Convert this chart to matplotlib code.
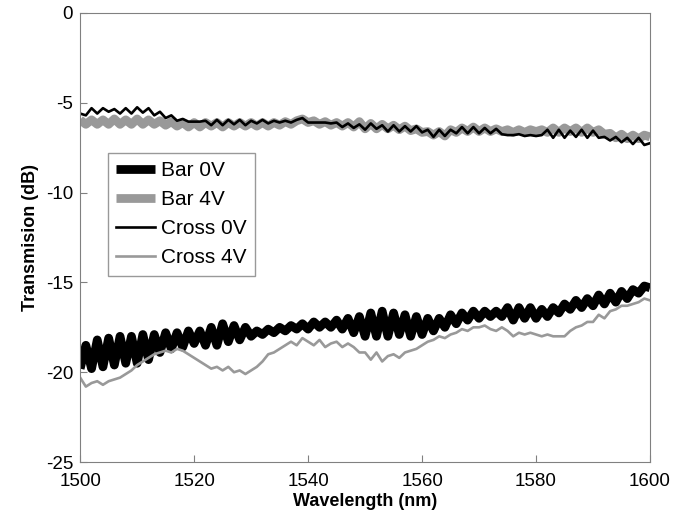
import matplotlib
matplotlib.use("Agg")
import matplotlib.pyplot as plt
import numpy as np

plt.rcParams['font.family'] = ['Liberation Sans', 'DejaVu Sans']
plt.rcParams['axes.unicode_minus'] = False

# wavelength grid, 1 nm step
wavelength = np.arange(1500, 1601)

bar_0v = [
    -19.8, -18.5, -19.8, -18.2, -19.7, -18.1, -19.6, -18.0, -19.5, -18.0,
    -19.5, -17.9, -19.3, -17.9, -18.9, -17.8, -18.7, -17.8, -18.6, -17.7,
    -18.4, -17.7, -18.5, -17.5, -18.5, -17.3, -18.3, -17.4, -18.2, -17.5,
    -18.0, -17.7, -17.9, -17.6, -17.8, -17.5, -17.7, -17.4, -17.6, -17.3,
    -17.6, -17.2, -17.5, -17.2, -17.5, -17.1, -17.6, -17.0, -17.8, -16.9,
    -18.0, -16.7, -18.0, -16.6, -18.0, -16.7, -17.9, -16.8, -18.0, -16.9,
    -17.9, -17.0, -17.7, -17.0, -17.5, -16.8, -17.3, -16.7, -17.1, -16.6,
    -17.0, -16.6, -16.9, -16.6, -16.9, -16.4, -17.1, -16.4, -17.0, -16.4,
    -17.0, -16.5, -16.9, -16.4, -16.7, -16.2, -16.5, -16.0, -16.4, -15.9,
    -16.3, -15.7, -16.2, -15.6, -16.1, -15.5, -15.9, -15.4, -15.6, -15.2,
    -15.3,
]

bar_4v = [
    -5.95, -6.2, -5.95, -6.2, -5.95, -6.2, -5.9, -6.2, -5.95, -6.2,
    -5.9, -6.2, -5.95, -6.2, -6.0, -6.25, -6.05, -6.3, -6.1, -6.35,
    -6.1, -6.35, -6.1, -6.3, -6.1, -6.35, -6.1, -6.3, -6.1, -6.3,
    -6.1, -6.3, -6.1, -6.3, -6.1, -6.25, -6.05, -6.2, -6.0, -5.9,
    -6.1, -6.0, -6.2, -6.05, -6.25, -6.1, -6.3, -6.1, -6.35, -6.05,
    -6.45, -6.15, -6.45, -6.2, -6.45, -6.25, -6.5, -6.3, -6.55, -6.45,
    -6.65, -6.6, -6.8, -6.6, -6.85, -6.5, -6.65, -6.4, -6.6, -6.35,
    -6.6, -6.4, -6.6, -6.45, -6.6, -6.5, -6.65, -6.5, -6.65, -6.5,
    -6.6, -6.5, -6.65, -6.4, -6.65, -6.4, -6.6, -6.4, -6.65, -6.4,
    -6.65, -6.5, -6.75, -6.7, -6.95, -6.75, -7.0, -6.8, -7.0, -6.8,
    -6.9,
]

cross_0v = [
    -5.6, -5.7, -5.3, -5.6, -5.3, -5.5, -5.35, -5.6, -5.3, -5.6,
    -5.25, -5.55, -5.3, -5.7, -5.5, -5.85, -5.7, -6.0, -5.9, -6.05,
    -6.05, -6.05, -6.0, -6.25, -5.95, -6.25, -5.95, -6.2, -5.95, -6.25,
    -6.0, -6.15, -5.95, -6.15, -6.0, -6.1, -6.0, -6.1, -5.95, -5.85,
    -6.1, -6.1, -6.1, -6.1, -6.15, -6.1, -6.35, -6.15, -6.4, -6.2,
    -6.5, -6.15, -6.45, -6.25, -6.6, -6.25, -6.6, -6.3, -6.6, -6.3,
    -6.65, -6.5, -6.9, -6.5, -6.85, -6.5, -6.7, -6.35, -6.7, -6.35,
    -6.7, -6.4, -6.7, -6.45, -6.75, -6.8, -6.8, -6.75, -6.85, -6.8,
    -6.85, -6.8, -6.5, -6.95, -6.5, -6.95, -6.55, -6.9, -6.5, -6.95,
    -6.55, -6.95, -6.9, -7.1, -6.9, -7.2, -6.95, -7.3, -6.95, -7.35,
    -7.25,
]

cross_4v = [
    -20.3, -20.8, -20.6, -20.5, -20.7, -20.5, -20.4, -20.3, -20.1, -19.9,
    -19.6, -19.4, -19.2, -19.0, -18.9, -18.8, -18.9, -18.7, -18.8, -19.0,
    -19.2, -19.4, -19.6, -19.8, -19.7, -19.9, -19.7, -20.0, -19.9, -20.1,
    -19.9, -19.7, -19.4, -19.0, -18.9, -18.7, -18.5, -18.3, -18.5, -18.1,
    -18.3, -18.5, -18.2, -18.6, -18.4, -18.3, -18.6, -18.4, -18.6, -18.9,
    -18.9, -19.3, -18.9, -19.4, -19.1, -19.0, -19.2, -18.9, -18.8, -18.7,
    -18.5, -18.3, -18.2, -18.0, -18.1, -17.9, -17.8, -17.6, -17.7, -17.5,
    -17.5, -17.4, -17.6, -17.7, -17.5, -17.7, -18.0, -17.8, -17.9, -17.8,
    -17.9, -18.0, -17.9, -18.0, -18.0, -18.0, -17.7, -17.5, -17.4, -17.2,
    -17.2, -16.8, -17.0, -16.6, -16.5, -16.3, -16.3, -16.2, -16.1, -15.9,
    -16.0,
]

x_ticks = [1500, 1520, 1540, 1560, 1580, 1600]
y_ticks = [0, -5, -10, -15, -20, -25]

fig = plt.figure(figsize=(6.97, 5.18), dpi=100)
ax = fig.add_axes([0.115, 0.108, 0.8176, 0.867])

thick = dict(lw=6.3, solid_joinstyle='round', solid_capstyle='butt')
thin = dict(lw=1.9, solid_joinstyle='round')
ax.plot(wavelength, bar_0v, color='black', label='Bar 0V', **thick)
ax.plot(wavelength, bar_4v, color='0.6', label='Bar 4V', **thick)
ax.plot(wavelength, cross_0v, color='black', label='Cross 0V', **thin)
ax.plot(wavelength, cross_4v, color='0.6', label='Cross 4V', **thin)

ax.set_xlim(1500, 1600)
ax.set_ylim(-25, 0)
ax.set_xticks(x_ticks)
ax.set_yticks(y_ticks)
ax.tick_params(direction='in', length=5, labelsize=13.5, color='0.5')
ax.tick_params(axis='x', pad=8)
ax.tick_params(axis='y', pad=5)
for s in ax.spines.values():
    s.set_color('0.5')

ax.set_xlabel('Wavelength (nm)', fontsize=13, fontweight='bold', labelpad=2)
ax.set_ylabel('Transmision (dB)', fontsize=13, fontweight='bold', labelpad=5)

leg = ax.legend(loc='upper left', bbox_to_anchor=(0.049, 0.688), borderaxespad=0,
                fontsize=15, fancybox=False, handlelength=1.85, handletextpad=0.3,
                labelspacing=0.48, borderpad=0.4)
leg.get_frame().set_edgecolor('0.5')
leg.get_frame().set_linewidth(1.0)

fig.savefig('out.png', dpi=100)
